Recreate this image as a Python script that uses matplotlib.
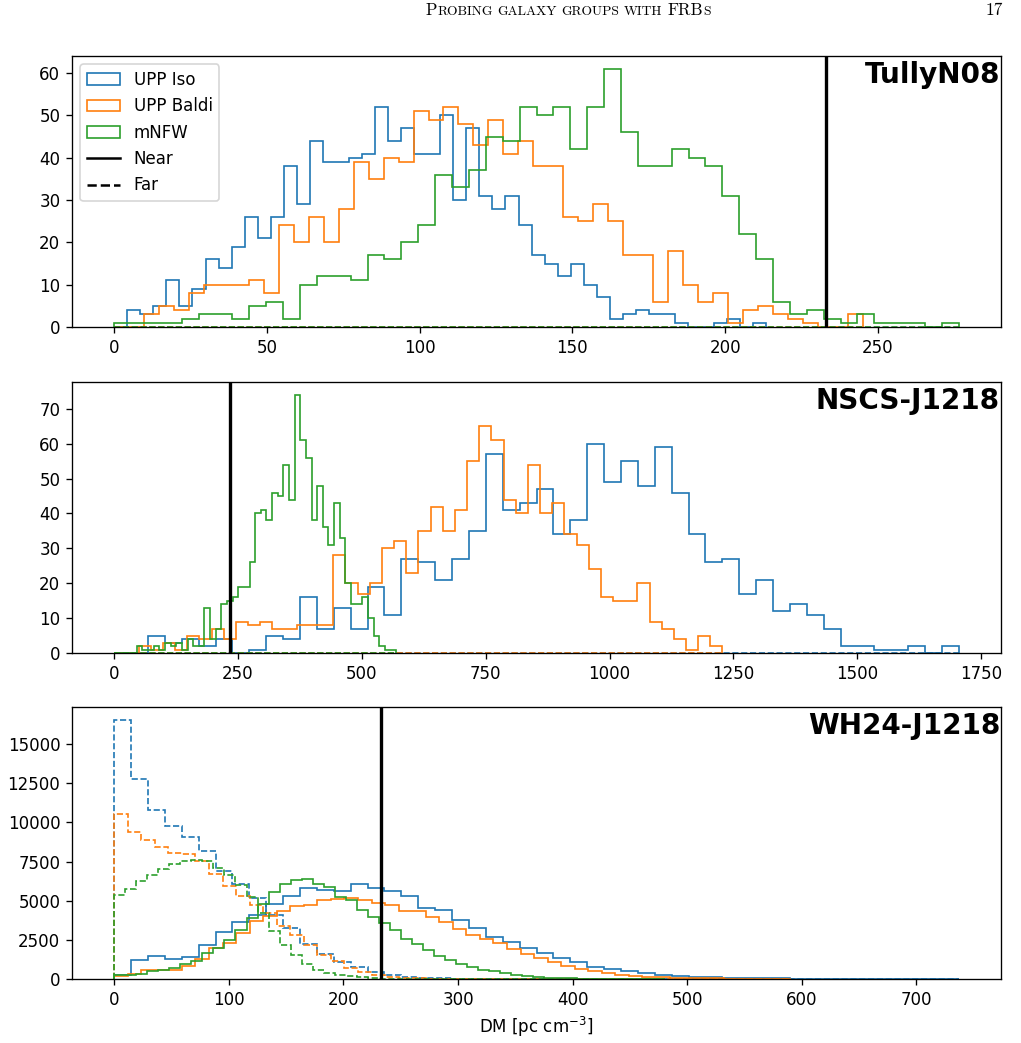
import numpy as np
import matplotlib
matplotlib.use("Agg")
import matplotlib.pyplot as plt
from matplotlib.patches import Patch
from matplotlib.lines import Line2D

# ---- data: 50-bin DM histograms (counts), bins span 0..DM max ----
models = ["UPP Iso", "UPP Baldi", "mNFW"]
colors = ["C0", "C1", "C2"]
groups = ["TullyN08", "NSCS-J1218", "WH24-J1218"]
dm_near = 233.0

# TullyN08
tully_iso_near = [0, 4, 3, 5, 11, 5, 9, 16, 14, 19, 26, 21, 26, 38, 29, 44, 39, 39, 40, 41,
                  52, 44, 47, 41, 41, 50, 30, 47, 31, 28, 31, 24, 17, 15, 12, 15, 10, 7, 2, 3,
                  4, 3, 3, 1, 0, 0, 1, 2, 0, 1]
tully_baldi_near = [0, 0, 3, 5, 4, 8, 10, 10, 10, 11, 8, 24, 20, 26, 20, 28, 39, 35, 40, 39,
                    51, 49, 52, 48, 43, 49, 41, 44, 38, 38, 26, 25, 29, 25, 17, 17, 6, 18, 10, 6,
                    8, 1, 4, 5, 3, 2, 1, 0, 0, 3]
tully_mnfw_near = [1, 1, 1, 1, 2, 3, 3, 2, 5, 6, 2, 10, 12, 12, 11, 17, 16, 20, 24, 36,
                   33, 37, 45, 44, 52, 50, 52, 42, 52, 61, 46, 38, 38, 42, 40, 38, 31, 22, 16, 6,
                   3, 4, 2, 1, 3, 1, 1, 1, 0, 1]
tully_far = [0] * 50
tully_dmmax = [213.5, 245.0, 276.5]

# NSCS-J1218
nscs_iso_near = [0, 0, 5, 3, 4, 2, 4, 0, 1, 5, 4, 16, 7, 13, 7, 19, 11, 27, 26, 21,
                 27, 35, 57, 41, 43, 47, 34, 38, 60, 49, 55, 48, 59, 46, 34, 26, 27, 17, 21, 12,
                 14, 11, 7, 2, 2, 1, 1, 2, 0, 2]
nscs_baldi_near = [0, 0, 2, 1, 3, 1, 5, 4, 7, 4, 9, 8, 9, 7, 7, 8, 8, 8, 28, 20,
                   17, 20, 30, 32, 23, 35, 42, 35, 41, 55, 65, 61, 44, 40, 54, 40, 43, 34, 31, 24,
                   16, 15, 15, 20, 9, 7, 4, 1, 5, 2]
nscs_mnfw_near = [0, 0, 0, 0, 2, 1, 1, 2, 1, 3, 2, 3, 1, 4, 2, 2, 13, 4, 7, 14,
                  15, 16, 19, 19, 26, 40, 41, 38, 46, 45, 54, 44, 74, 61, 56, 38, 48, 36, 31, 43,
                  33, 20, 14, 14, 16, 10, 5, 2, 1, 1]
nscs_far = [0] * 50
nscs_dmmax = [1705.0, 1228.0, 569.0]

# WH24-J1218
wh24_iso_near = [250, 1190, 1450, 1300, 1400, 2200, 3030, 3660, 4110, 4800,
                 5330, 5840, 5710, 5600, 6080, 5840, 5600, 5300, 4540, 4380,
                 3750, 3280, 2690, 2380, 1980, 1640, 1340, 1065, 770, 620,
                 490, 360, 280, 210, 150, 110, 80, 60, 45, 35,
                 25, 20, 15, 10, 8, 6, 5, 3, 2, 2]
wh24_iso_far = [16540, 12740, 10780, 9760, 9080, 8160, 6880, 6090, 5180, 4110,
                3250, 2240, 1620, 1070, 750, 430, 250, 150, 80, 50,
                30, 20, 10, 5, 5, 0, 0, 0, 0, 0,
                0, 0, 0, 0, 0, 0, 0, 0, 0, 0,
                0, 0, 0, 0, 0, 0, 0, 0, 0, 0]
wh24_baldi_near = [200, 350, 550, 550, 550, 810, 1280, 1980, 2300, 2940,
                   3690, 4050, 4330, 4650, 4710, 5030, 5110, 5180, 5070, 4860,
                   4710, 4370, 4370, 3960, 3620, 3200, 2830, 2530, 2280, 1900,
                   1600, 1340, 1100, 800, 650, 490, 360, 280, 190, 130,
                   100, 80, 60, 50, 40, 30, 20, 15, 10, 5]
wh24_baldi_far = [10550, 9380, 8860, 8420, 8060, 8010, 7520, 6710, 5920, 5330,
                  4750, 4220, 3370, 2830, 2190, 1560, 1130, 700, 430, 230,
                  150, 90, 50, 30, 20, 10, 5, 0, 0, 0,
                  0, 0, 0, 0, 0, 0, 0, 0, 0, 0,
                  0, 0, 0, 0, 0, 0, 0, 0, 0, 0]
wh24_mnfw_near = [230, 230, 320, 490, 600, 700, 960, 1130, 1660, 1980,
                  2510, 3150, 3900, 4790, 5560, 6090, 6300, 6410, 6090, 5860,
                  5220, 5070, 4430, 3960, 3580, 3110, 2580, 2260, 1870, 1490,
                  1235, 980, 750, 600, 490, 380, 230, 170, 130, 85,
                  60, 40, 30, 20, 15, 10, 5, 5, 2, 2]
wh24_mnfw_far = [5390, 5750, 6240, 6670, 7050, 7350, 7520, 7590, 7520, 7100,
                 6670, 6030, 5220, 4220, 3050, 2150, 1510, 960, 600, 390,
                 230, 170, 110, 60, 30, 20, 10, 5, 0, 0,
                 0, 0, 0, 0, 0, 0, 0, 0, 0, 0,
                 0, 0, 0, 0, 0, 0, 0, 0, 0, 0]
wh24_dmmax = [737.0, 591.0, 481.0]

panels = [
    ([tully_iso_near, tully_baldi_near, tully_mnfw_near], [tully_far] * 3, tully_dmmax),
    ([nscs_iso_near, nscs_baldi_near, nscs_mnfw_near], [nscs_far] * 3, nscs_dmmax),
    ([wh24_iso_near, wh24_baldi_near, wh24_mnfw_near],
     [wh24_iso_far, wh24_baldi_far, wh24_mnfw_far], wh24_dmmax),
]

header_title = "Probing galaxy groups with FRBs"
page_number = "17"

W, H, DPI = 1021, 1043, 120
fig = plt.figure(figsize=(W / DPI, H / DPI), dpi=DPI)

# axes boxes in pixels (top, bottom)
boxes = [(56, 327), (382, 653), (707, 979)]
axes = [fig.add_axes([72 / W, 1 - b / H, 929 / W, (b - t) / H]) for t, b in boxes]

for ax, name, (nears, fars, dmmax) in zip(axes, groups, panels):
    for near, far, top, c in zip(nears, fars, dmmax, colors):
        edges = np.linspace(0, top, len(near) + 1)
        ax.stairs(near, edges, color=c, lw=1.0)
        ax.stairs(far, edges, color=c, lw=1.0, ls="--")
    ax.axvline(dm_near, color="k", lw=2)
    ax.text(0.999, 0.98, name, transform=ax.transAxes, ha="right", va="top",
            fontsize=16.7, fontweight="bold")

handles = [Patch(facecolor="none", edgecolor=c, label=m) for m, c in zip(models, colors)]
handles += [Line2D([], [], color="k", ls="-", label="Near"),
            Line2D([], [], color="k", ls="--", label="Far")]
axes[0].legend(handles=handles, loc="upper left")
axes[2].set_xlabel(r"DM [pc cm$^{-3}$]")


# running head in small caps
def small_caps(text, xc, ybase, big, small):
    r = fig.canvas.get_renderer()

    def advance(s, size):
        a = fig.text(0, 0, s + "l", fontsize=size, family="cmr10")
        b = fig.text(0, 0, "l", fontsize=size, family="cmr10")
        w = a.get_window_extent(r).width - b.get_window_extent(r).width
        a.remove()
        b.remove()
        return w

    pieces = []
    for wi, word in enumerate(text.split(" ")):
        if wi:
            pieces.append((None, 0.28 * big * DPI / 72))
        run = word[0]
        for ch in word[1:]:
            if ch.isupper() == run[-1].isupper():
                run += ch
            else:
                pieces.append((run, big if run[0].isupper() else small))
                run = ch
        pieces.append((run, big if run[0].isupper() else small))
    placed, x = [], 0.0
    for s, v in pieces:
        if s is None:
            x += v
            continue
        t = fig.text(0, ybase, s.upper(), fontsize=v, family="cmr10", va="baseline")
        placed.append((t, x))
        x += advance(s.upper(), v)
    x0 = xc - x / 2
    for t, off in placed:
        t.set_x((x0 + off) / W)


small_caps(header_title, 568, 1 - 15 / H, 10.2, 8.1)
fig.text(1003 / W, 1 - 15 / H, page_number, ha="right", va="baseline",
         family="cmr10", fontsize=10.5)

fig.savefig("out.png", dpi=DPI)
